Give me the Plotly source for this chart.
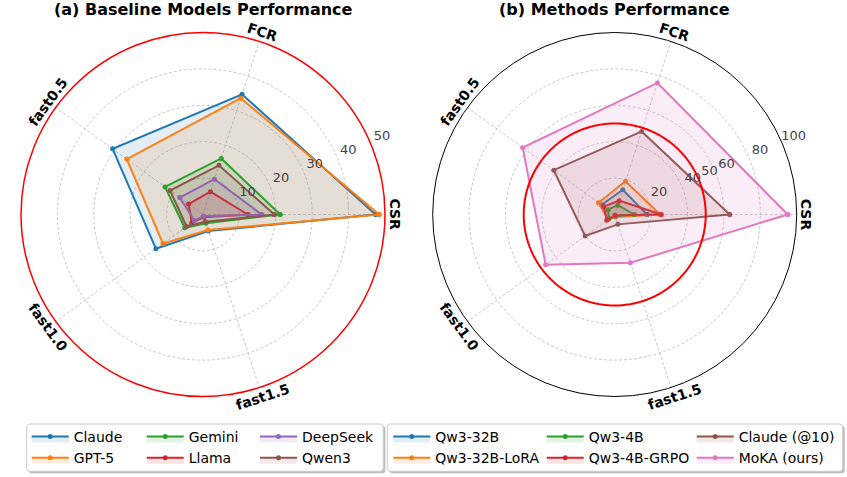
import numpy as np
import plotly.graph_objects as go

# ---------------- data ----------------
categories = ["CSR", "FCR", "fast0.5", "fast1.0", "fast1.5"]

# (a) Baseline models
claude   = [47.4, 34.7, 30.7, 16.0, 4.8]
gpt5     = [48.4, 33.6, 25.9, 13.6, 4.5]
gemini   = [21.2, 16.2, 12.9, 6.2, 2.5]
llama    = [12.3, 6.6, 4.9, 3.8, 0.8]
deepseek = [16.1, 10.2, 7.9, 2.9, 0.5]
qwen3    = [19.6, 14.2, 11.2, 5.6, 2.1]

# (b) Methods
qw32b      = [17.8, 14.3, 9.0, 4.4, 1.0]
qw32b_lora = [25.0, 19.2, 11.0, 4.5, 1.5]
qw4b       = [10.7, 5.4, 4.5, 3.8, 1.0]
qw4b_grpo  = [25.5, 8.0, 7.4, 5.4, 0.5]
claude10   = [63.2, 48.0, 41.4, 20.1, 5.7]
moka       = [95.1, 76.0, 62.5, 46.9, 27.9]

left_ticks = [10, 20, 30, 40, 50]
right_ticks = [20, 40, 50, 60, 80, 100]
left_max = 50
right_max = 100
threshold = 50

left_series = [("Claude", claude), ("GPT-5", gpt5), ("Gemini", gemini),
               ("Llama", llama), ("DeepSeek", deepseek), ("Qwen3", qwen3)]
right_series = [("Qw3-32B", qw32b), ("Qw3-32B-LoRA", qw32b_lora), ("Qw3-4B", qw4b),
                ("Qw3-4B-GRPO", qw4b_grpo), ("Claude (@10)", claude10), ("MoKA (ours)", moka)]
left_colors = ["#1f77b4", "#ff7f0e", "#2ca02c", "#d62728", "#9467bd", "#8c564b"]
right_colors = ["#1f77b4", "#ff7f0e", "#2ca02c", "#d62728", "#8c564b", "#e377c2"]

# ---------------- geometry ----------------
W, H = 847, 477
FONT = "DejaVu Sans"
n = len(categories)
angles = [i * 360.0 / n for i in range(n)]
R = 182
centers = [(203, 214.5), (614.7, 214.5)]
RLABEL_ANGLE = 22.5
RLABEL_PAD = 13   # px outward from the tick radius
RLABEL_PERP = 3   # px counter-clockwise from the label axis
LABEL_SCALE = 1.1  # enlarged, invisible overlay polar used to host the r-labels


def rgba(hexc, a):
    h = hexc.lstrip("#")
    return "rgba(%d,%d,%d,%.3f)" % (int(h[0:2], 16), int(h[2:4], 16), int(h[4:6], 16), a)


fig = go.Figure()

legend_names = ["legend", "legend2", "legend3", "legend4", "legend5", "legend6"]


def add_group(series, colors, subplot, legends):
    for i, (name, vals) in enumerate(series):
        c = colors[i]
        fig.add_trace(go.Scatterpolar(
            r=list(vals) + [vals[0]],
            theta=angles + [angles[0]],
            mode="lines+markers",
            fill="toself",
            fillcolor=rgba(c, 0.13),
            line=dict(color=c, width=2),
            marker=dict(size=5, color=c),
            name=name,
            subplot=subplot,
            legend=legends[i // 2],
        ))


add_group(left_series, left_colors, "polar", legend_names[:3])
add_group(right_series, right_colors, "polar2", legend_names[3:])

# red threshold circle on the right chart
circ_theta = np.linspace(0, 360, 361)
fig.add_trace(go.Scatterpolar(
    r=[threshold] * len(circ_theta), theta=circ_theta, mode="lines",
    line=dict(color="red", width=2), showlegend=False, subplot="polar2",
    hoverinfo="skip"))


# radial tick labels (matplotlib style: horizontal, just outside each ring)
def add_rlabels(ticks, rmax, subplot):
    unit = R / rmax
    rr, tt = [], []
    for t in ticks:
        rpx = t * unit + RLABEL_PAD
        rr.append(rpx / unit)
        tt.append(RLABEL_ANGLE + np.degrees(RLABEL_PERP / rpx))
    fig.add_trace(go.Scatterpolar(
        r=rr, theta=tt, mode="text", text=[str(t) for t in ticks],
        textposition="middle center", cliponaxis=False,
        textfont=dict(family=FONT, size=13, color="#444"),
        showlegend=False, hoverinfo="skip", subplot=subplot))


add_rlabels(left_ticks, left_max, "polar3")
add_rlabels(right_ticks, right_max, "polar4")

grid_col = "rgba(165,165,165,0.6)"


def domain(cx, cy, rad):
    return dict(x=[(cx - rad) / W, (cx + rad) / W], y=[(H - cy - rad) / H, (H - cy + rad) / H])


def polar_cfg(cx, cy, rmax, ticks, linecolor, linewidth):
    return dict(
        domain=domain(cx, cy, R),
        bgcolor="white",
        angularaxis=dict(
            rotation=0, direction="counterclockwise", tickmode="array", tickvals=angles,
            showticklabels=False, ticks="", showline=True, linecolor=linecolor,
            linewidth=linewidth, showgrid=True, gridcolor=grid_col, griddash="3px,2px",
            gridwidth=0.8),
        radialaxis=dict(
            range=[0, rmax], tickmode="array", tickvals=ticks, angle=RLABEL_ANGLE,
            showline=False, ticks="", showticklabels=False,
            showgrid=True, gridcolor=grid_col, griddash="3px,2px", gridwidth=0.8),
    )


def overlay_cfg(cx, cy, rmax):
    return dict(
        domain=domain(cx, cy, R * LABEL_SCALE),
        bgcolor="rgba(0,0,0,0)",
        angularaxis=dict(rotation=0, direction="counterclockwise", showticklabels=False,
                         ticks="", showline=False, showgrid=False),
        radialaxis=dict(range=[0, rmax * LABEL_SCALE], visible=False, showgrid=False),
    )


annotations = []
titles = ["<b>(a) Baseline Models Performance</b>", "<b>(b) Methods Performance</b>"]
for k, (cx, cy) in enumerate(centers):
    annotations.append(dict(text=titles[k], x=cx / W, y=1 - 9.5 / H, xref="paper", yref="paper",
                            xanchor="center", yanchor="middle", showarrow=False,
                            font=dict(family=FONT, size=16, color="black")))
    for a, cat in zip(angles, categories):
        rad = np.deg2rad(a)
        px = cx + 192 * np.cos(rad)
        py = cy - 192 * np.sin(rad)
        ta = 90 - a
        while ta > 90:
            ta -= 180
        while ta < -90:
            ta += 180
        annotations.append(dict(text="<b>%s</b>" % cat, x=px / W, y=1 - py / H,
                                xref="paper", yref="paper", xanchor="center", yanchor="middle",
                                textangle=ta, showarrow=False,
                                font=dict(family=FONT, size=14, color="black")))

# legend boxes
shapes = []


def rounded_box(x0, y0, x1, y1, r=3):
    rx, ry = r / W, r / H
    X0, X1 = x0 / W, x1 / W
    Y0, Y1 = 1 - y0 / H, 1 - y1 / H  # Y0 top, Y1 bottom
    return ("M %f,%f L %f,%f Q %f,%f %f,%f L %f,%f Q %f,%f %f,%f L %f,%f Q %f,%f %f,%f "
            "L %f,%f Q %f,%f %f,%f Z" % (
                X0 + rx, Y0, X1 - rx, Y0, X1, Y0, X1, Y0 - ry, X1, Y1 + ry, X1, Y1, X1 - rx, Y1,
                X0 + rx, Y1, X0, Y1, X0, Y1 + ry, X0, Y0 - ry, X0, Y0, X0 + rx, Y0))


for (x0, x1) in [(26.7, 383.3), (387.3, 842.7)]:
    shapes.append(dict(type="path", path=rounded_box(x0 + 2, 426, x1 + 2, 473.3),
                       xref="paper", yref="paper", line=dict(width=0),
                       fillcolor="rgba(120,120,120,0.5)", layer="above"))
    shapes.append(dict(type="path", path=rounded_box(x0, 424, x1, 471.3),
                       xref="paper", yref="paper", line=dict(color="#cccccc", width=1),
                       fillcolor="white", layer="above"))

legend_x = [26.7, 141.7, 255.0, 388.3, 541.7, 691.7]
layout_legends = {}
for name, lx in zip(legend_names, legend_x):
    layout_legends[name] = dict(
        x=lx / W, xanchor="left", y=1 - 421 / H, yanchor="top", orientation="v",
        bgcolor="rgba(0,0,0,0)", borderwidth=0, itemwidth=37, tracegroupgap=0,
        font=dict(family=FONT, size=14, color="black"))

fig.update_layout(
    width=W, height=H, margin=dict(l=0, r=0, t=0, b=0),
    paper_bgcolor="white", plot_bgcolor="white",
    font=dict(family=FONT),
    polar=polar_cfg(centers[0][0], centers[0][1], left_max, left_ticks, "red", 1.5),
    polar2=polar_cfg(centers[1][0], centers[1][1], right_max, right_ticks, "black", 1),
    polar3=overlay_cfg(centers[0][0], centers[0][1], left_max),
    polar4=overlay_cfg(centers[1][0], centers[1][1], right_max),
    annotations=annotations,
    shapes=shapes,
    **layout_legends,
)

fig.write_html("out.html")
